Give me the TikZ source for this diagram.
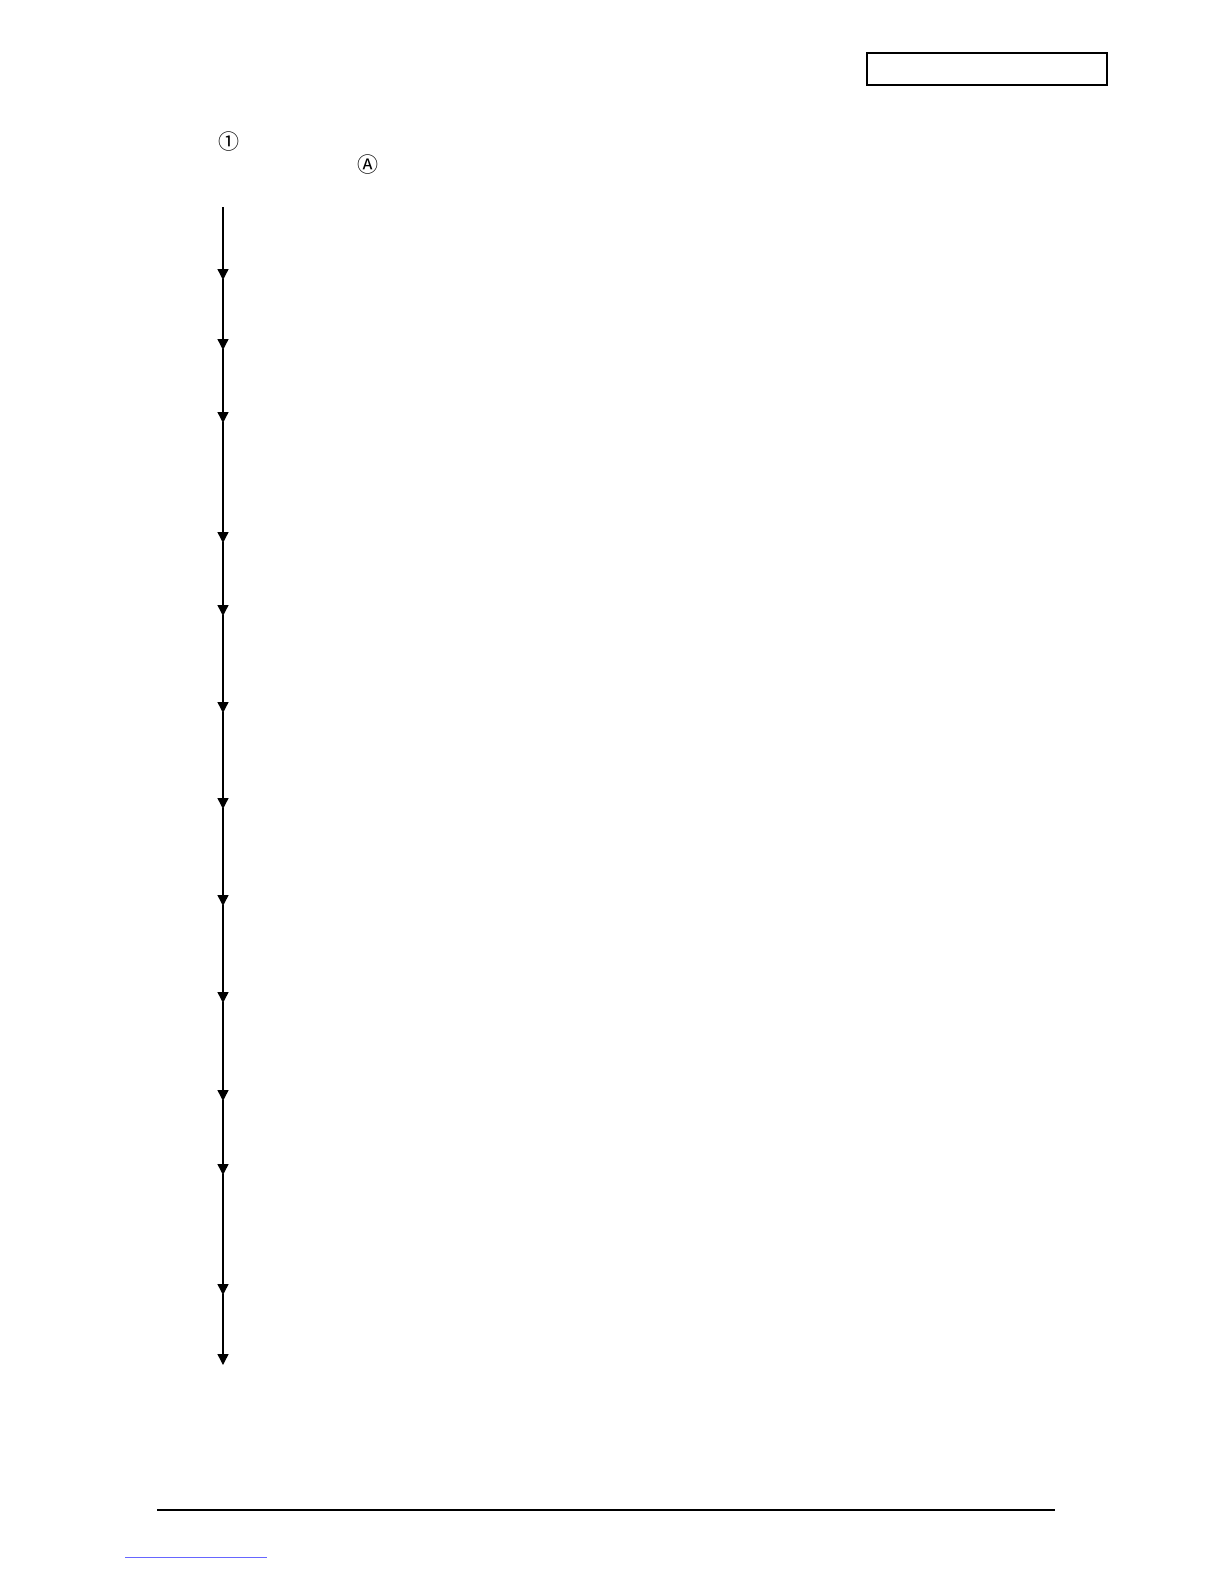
\documentclass[tikz,border=0pt]{standalone}
\usepackage{fontspec}
\newfontfamily\symfont{Noto Sans CJK JP}
\usetikzlibrary{arrows.meta}
\begin{document}
\begin{tikzpicture}[x=1pt,y=-1pt,
  flow/.style={line width=1.4pt,-{Triangle[width=11pt,length=11pt]},shorten >=-1pt},
  circ/.style={font=\symfont\fontsize{21}{21}\selectfont,inner sep=0pt}]
\useasboundingbox (0,0) rectangle (1224,1584);
\node[draw,line width=1.2pt,minimum width=240pt,minimum height=32pt,inner sep=0pt] (hdr) at (987,69) {};
\node[circ] (one) at (229,142) {①};
\node[circ] (A) at (368,165) {Ⓐ};
\coordinate (c0) at (223,207);
\foreach \i/\y in {1/279,2/349,3/422,4/542,5/615,6/712,7/808,8/905,9/1002,10/1100,11/1174,12/1294,13/1364}{
  \coordinate (c\i) at (223,\y);
}
\foreach \i [remember=\i as \j (initially 0)] in {1,...,13}{
  \draw[flow] (c\j) -- (c\i);
}
\coordinate (fl) at (157,1510);
\coordinate (fr) at (1055,1510);
\draw[line width=1.2pt] (fl) -- (fr);
\coordinate (ll) at (125,1557);
\coordinate (lr) at (267,1557);
\draw[line width=0.8pt,blue!60] (ll) -- (lr);
\end{tikzpicture}
\end{document}
